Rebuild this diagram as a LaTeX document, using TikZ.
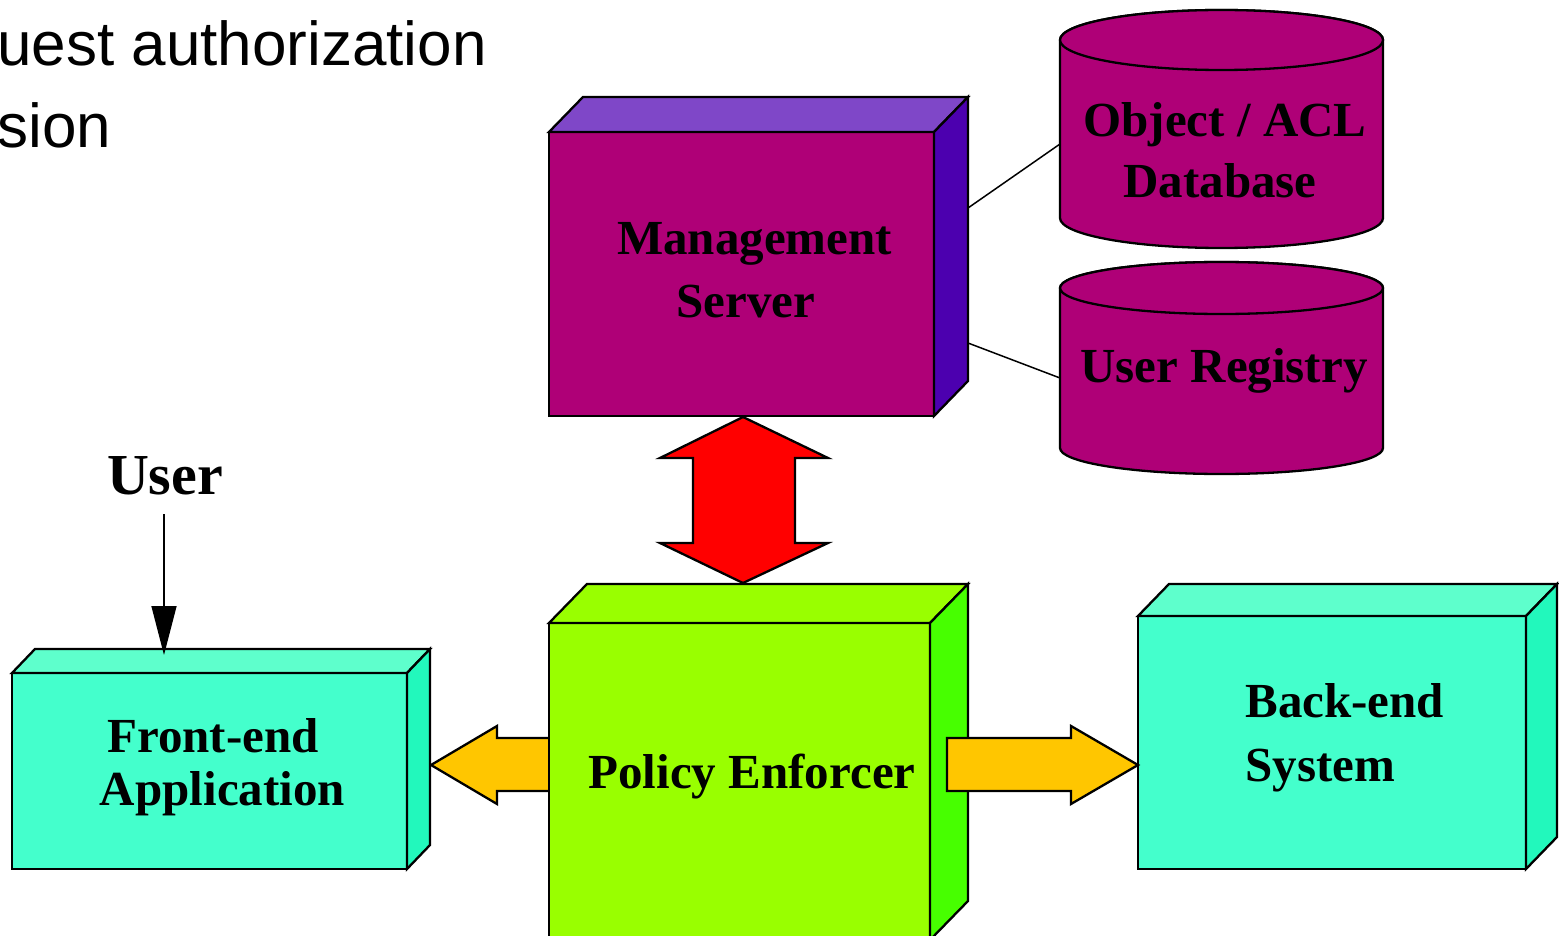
\documentclass[tikz,border=0pt]{standalone}
\usepackage{fontspec}
\setmainfont{Liberation Serif}
\newfontfamily\headfont{Liberation Sans}
\usetikzlibrary{arrows.meta}

\definecolor{mgFront}{HTML}{AF0077}
\definecolor{mgTop}{HTML}{7F47C8}
\definecolor{mgSide}{HTML}{4C00AF}
\definecolor{peFront}{HTML}{99FF00}
\definecolor{peTop}{HTML}{99FF00}
\definecolor{peSide}{HTML}{47FF00}
\definecolor{tlFront}{HTML}{44FFCC}
\definecolor{tlTop}{HTML}{5EFFCC}
\definecolor{tlSide}{HTML}{22F8BC}
\definecolor{flowOrange}{HTML}{FFC600}
\definecolor{flowRed}{HTML}{FF0000}

\tikzset{
  face/.style={draw=black, line width=1.15pt, line join=miter},
  frontface/.style={face, rectangle, inner sep=0pt, outer sep=0pt},
  lbl/.style={font=\fontsize{24.5}{24.5}\selectfont\bfseries, inner sep=0pt},
  headtxt/.style={font=\headfont\fontsize{31}{31}\selectfont, inner sep=0pt, anchor=base west},
  link/.style={draw=black, line width=0.75pt},
  blockarrow/.style={face, line join=miter},
  userarrow/.style={draw=black, line width=0.75pt, -{Triangle[length=24.5pt, width=12.5pt]}}
}

% top and right faces of a box whose front face is node #1
\newcommand\boxfaces[5]{%
  \filldraw[face, fill=#4] (#1.north west) -- ++(#2,-#3)
    -- ([shift={(#2,-#3)}]#1.north east) -- (#1.north east) -- cycle;
  \filldraw[face, fill=#5] (#1.north east) -- ([shift={(#2,-#3)}]#1.north east)
    -- ([shift={(#2,-#3)}]#1.south east) -- (#1.south east) -- cycle;}

\begin{document}
\begin{tikzpicture}[x=0.5pt, y=-0.5pt]
\useasboundingbox (0,0) rectangle (1559,936);
\clip (0,0) rectangle (1559,936);

% heading lines
\node[headtxt] (head1) at (-3,66) {uest authorization};
\node[headtxt] (head2) at (-3,148) {sion};

% databases
\filldraw[face, fill=mgFront] (1060,40) -- (1060,218)
  arc[start angle=180, end angle=0, x radius=161.5, y radius=30]
  -- (1383,40) arc[start angle=0, end angle=-180, x radius=161.5, y radius=30] -- cycle;
\draw[face, fill=mgFront] (1221.5,40) ellipse[x radius=161.5, y radius=30];
\node[inner sep=0pt, minimum width=161.5pt, minimum height=119pt] (db1) at (1221.5,129) {};

\filldraw[face, fill=mgFront] (1060,288) -- (1060,448)
  arc[start angle=180, end angle=0, x radius=161.5, y radius=26]
  -- (1383,288) arc[start angle=0, end angle=-180, x radius=161.5, y radius=26] -- cycle;
\draw[face, fill=mgFront] (1221.5,288) ellipse[x radius=161.5, y radius=26];
\node[inner sep=0pt, minimum width=161.5pt, minimum height=106pt] (db2) at (1221.5,368) {};

\coordinate (db1port) at (1060,144);
\coordinate (db2port) at (1060,378);
\coordinate (msport1) at (968,208);
\coordinate (msport2) at (968,343);
\draw[link] (msport1) -- (db1port);
\draw[link] (msport2) -- (db2port);

% management server
\node[frontface, fill=mgFront, minimum width=192.5pt, minimum height=142pt] (ms) at (741.5,274) {};
\boxfaces{ms}{34}{35}{mgTop}{mgSide}

% request / response between server and enforcer
\draw[blockarrow, fill=flowRed] (ms.south) ++(1.5,1) -- ++(85,41) -- ++(-33,0) -- ++(0,85)
  -- ++(33,0) -- ++(-85,40) -- ++(-83,-40) -- ++(33,0) -- ++(0,-85) -- ++(-33,0) -- cycle;

% enforcer to front-end
\draw[blockarrow, fill=flowOrange] (560,738) -- (497,738) -- (497,726) -- (431,765)
  -- (497,804) -- (497,791) -- (560,791) -- cycle;

% front-end application
\node[frontface, fill=tlFront, minimum width=197.5pt, minimum height=98pt] (fe) at (209.5,771) {};
\boxfaces{fe}{23}{24}{tlTop}{tlSide}

% policy enforcer
\node[frontface, fill=peFront, minimum width=190.5pt, minimum height=158.5pt] (pe) at (739.5,781.5) {};
\boxfaces{pe}{38}{39}{peTop}{peSide}

% back-end system
\node[frontface, fill=tlFront, minimum width=194pt, minimum height=126.5pt] (be) at (1332,742.5) {};
\boxfaces{be}{31}{32}{tlTop}{tlSide}

% enforcer to back-end
\draw[blockarrow, fill=flowOrange] (947,738) -- (1071,738) -- (1071,726)
  -- ([shift={(0,22.5)}]be.west)
  -- (1071,804) -- (1071,791) -- (947,791) -- cycle;

% labels
\node[lbl, anchor=base] (msl1) at (754.5,255) {Management};
\node[lbl, anchor=base] (msl2) at (746,318) {Server};
\node[lbl, anchor=base] (db1l1) at (1225,137) {Object / ACL};
\node[lbl, anchor=base] (db1l2) at (1220,198) {Database};
\node[lbl, anchor=base] (db2l) at (1224,382) {User Registry};
\node[lbl, anchor=base] (pel) at (752,788) {Policy Enforcer};
\node[lbl, anchor=base] (fel1) at (213,752) {Front-end};
\node[lbl, anchor=base] (fel2) at (222.5,805) {Application};
\node[lbl, anchor=base west] (bel1) at (1245,717) {Back-end};
\node[lbl, anchor=base west] (bel2) at (1245,781) {System};

% user
\node[lbl, anchor=base, font=\fontsize{29}{29}\selectfont\bfseries] (user) at (165,494) {User};
\draw[userarrow] (user.base) ++(-1,20) -- ++(0,141);
\end{tikzpicture}
\end{document}
